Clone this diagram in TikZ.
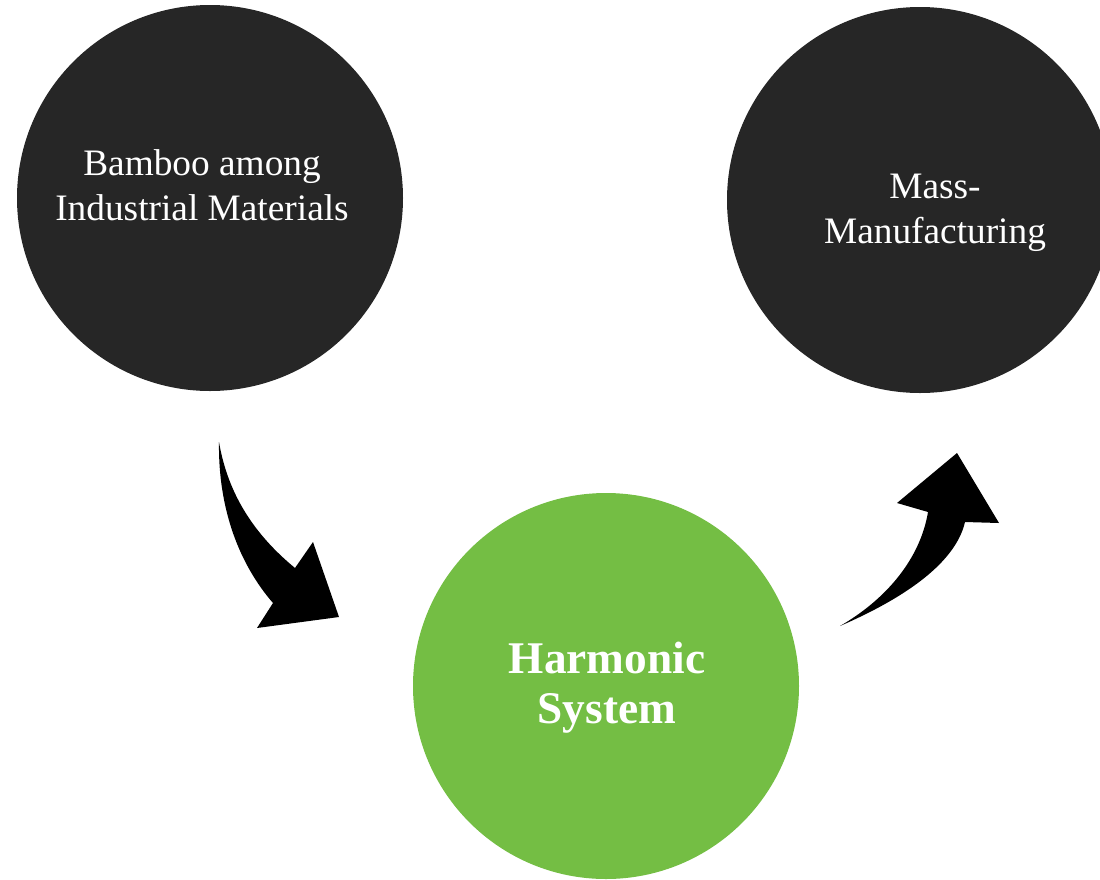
\documentclass[tikz,border=0pt]{standalone}
\usepackage{fontspec}
\setmainfont{Liberation Serif}
\definecolor{darkc}{RGB}{38,38,38}
\definecolor{greenc}{RGB}{116,190,68}
\begin{document}
\begin{tikzpicture}[x=0.75pt,y=-0.75pt,
  bubble/.style={circle,minimum size=289.5pt,inner sep=0pt,draw=none},
  lbl/.style={text=white,align=center,font=\fontsize{28}{33.5}\selectfont},
  blbl/.style={text=white,align=center,font=\bfseries\fontsize{34}{37.5}\selectfont},
  fatarrow/.style={fill=black,draw=none}]
\useasboundingbox (0,0) rectangle (1100,879);
\clip (0,0) rectangle (1100,879);
\node[bubble,fill=darkc] (bamboo) at (210,198) {};
\node[bubble,fill=darkc] (mass) at (920,200) {};
\node[bubble,fill=greenc] (harm) at (606,686) {};
\node[lbl] (tb) at (202,185) {Bamboo among\\Industrial Materials};
\node[lbl] (tm) at (935,213) {Mass-\\Manufacturing};
\node[blbl] (th) at (607,688) {Harmonic\\System};
\fill[fatarrow] (219,442) .. controls (218,510) and (240,565) .. (273,603)
  -- (257,628) -- (339,617) -- (313,542) -- (295,568)
  .. controls (255,535) and (228,495) .. (219,442) -- cycle;
\fill[fatarrow] (840,626) .. controls (900,600) and (955,565) .. (965,522)
  -- (999,523) -- (957,453) -- (897,503) -- (928,512)
  .. controls (920,560) and (885,600) .. (840,626) -- cycle;
\end{tikzpicture}
\end{document}
